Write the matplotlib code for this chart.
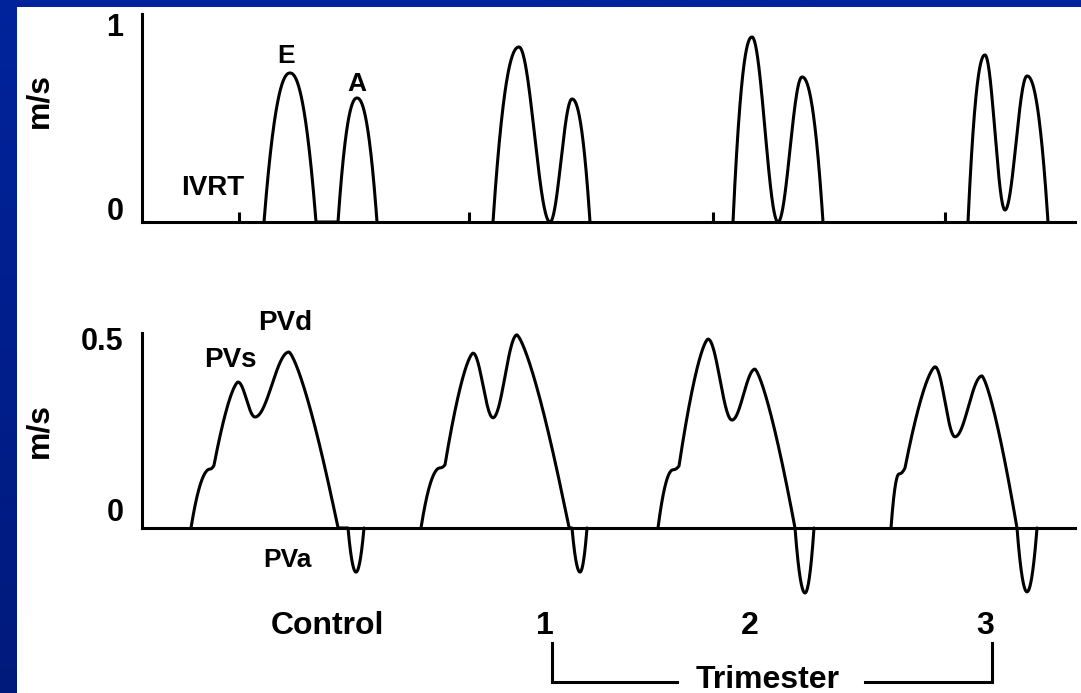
import numpy as np
import matplotlib
matplotlib.use("Agg")
import matplotlib.pyplot as plt
from matplotlib.transforms import ScaledTranslation

plt.rcParams['font.family'] = ['Liberation Sans', 'DejaVu Sans']
plt.rcParams['font.weight'] = 'bold'

W, H, DPI = 1081, 693, 100

# ---------------- data (time in ms from start of trace, velocity in m/s) ----------------
groups = ["Control", "1", "2", "3"]
group_label_t = [185, 403, 608, 843]

# isovolumic relaxation markers on the mitral trace
ivrt_marks = [97, 327, 571, 803]

# mitral inflow knots: onset, E peak, E end, A onset, A peak, A end
mitral_t = [
    [122, 148, 174, 196, 215, 235],
    [351, 377, 408, 408, 430, 448],
    [591, 610, 636, 636, 660, 681],
    [826, 843, 863, 863, 885, 906],
]
mitral_v = [
    [0, 0.745, 0, 0, 0.62, 0],
    [0, 0.875, 0, 0, 0.615, 0],
    [0, 0.925, 0, 0, 0.725, 0],
    [0, 0.835, 0.06, 0.06, 0.73, 0],
]
# knots where the trace turns smoothly (peaks and fused E-A troughs)
mitral_smooth = [
    [False, True, False, False, True, False],
    [False, True, True, True, True, False],
    [False, True, True, True, True, False],
    [False, True, True, True, True, False],
]
mitral_power = [2.2, 2.2, 1, 2.2, 2.2]

# pulmonary venous flow knots:
# onset, shoulder, shoulder end, PVs, S-D notch, PVd, zero crossing, PVa start, PVa, PVa end
pv_t = [
    [49, 68, 72, 96, 113, 147, 196, 206, 214, 222],
    [279, 298, 303, 331, 351, 375, 427, 430, 438, 445],
    [516, 531, 537, 566, 590, 613, 653, 653, 663, 672],
    [749, 757, 763, 793, 813, 840, 875, 875, 885, 895],
]
pv_v = [
    [0, 0.155, 0.165, 0.384, 0.292, 0.463, 0, 0, -0.116, 0],
    [0, 0.158, 0.166, 0.46, 0.29, 0.508, 0, 0, -0.116, 0],
    [0, 0.153, 0.163, 0.497, 0.284, 0.418, 0, 0, -0.171, 0],
    [0, 0.142, 0.158, 0.424, 0.24, 0.40, 0, 0, -0.168, 0],
]
pv_smooth = [False, True, False, True, True, True, False, False, True, False]
pv_power = [2, 2, 1.5, 2, 2, 1.35, 1, 2, 2]


def trace(t, v, smooth, power, n=80):
    """Join velocity knots with rounded segments (flat at smooth knots)."""
    xs, ys = [t[0]], [v[0]]
    for i in range(len(t) - 1):
        t0, t1, v0, v1 = t[i], t[i + 1], v[i], v[i + 1]
        if t1 <= t0:
            continue
        s = np.linspace(0, 1, n)[1:]
        a, b, p = smooth[i], smooth[i + 1], power[i]
        if a and b:
            f = (1 - np.cos(np.pi * s)) / 2
        elif b:
            f = 1 - (1 - s) ** p
        elif a:
            f = s ** p
        else:
            f = s
        xs.extend(t0 + (t1 - t0) * s)
        ys.extend(v0 + (v1 - v0) * f)
    return np.array(xs), np.array(ys)


# ---------------- figure ----------------
fig = plt.figure(figsize=(W / DPI, H / DPI), dpi=DPI)

bg = fig.add_axes([0, 0, 1, 1], zorder=0)
bg.set_xlim(0, W)
bg.set_ylim(H, 0)
bg.axis('off')
grad = np.linspace(0, 1, 256)[:, None]
blue = matplotlib.colors.LinearSegmentedColormap.from_list('frame', ['#00249c', '#001a7c'])
bg.imshow(grad, cmap=blue, extent=(0, W, H, 0), aspect='auto')
bg.add_patch(plt.Rectangle((17, 7), W - 17, H - 7, color='white', lw=0))

LW = 2.2
T_MAX = 933


def px_axes(left, right, top, bottom):
    return [left / W, 1 - bottom / H, (right - left) / W, (bottom - top) / H]


def style_axes(ax):
    for side in ('top', 'right'):
        ax.spines[side].set_visible(False)
    for side in ('left', 'bottom'):
        ax.spines[side].set_linewidth(LW)
        ax.spines[side].set_color('black')
    ax.set_xticks([])
    ax.set_xlim(0, T_MAX)
    ax.patch.set_alpha(0)
    ax.tick_params(axis='y', length=0, pad=13.5, labelsize=22)


def shift_ticklabels(ax, shifts_px):
    for lab, dy in zip(ax.get_yticklabels(), shifts_px):
        lab.set_verticalalignment('baseline')
        lab.set_fontweight('bold')
        lab.set_transform(lab.get_transform() +
                          ScaledTranslation(0, dy / DPI, fig.dpi_scale_trans))


# mitral inflow panel (v = 0 at 222 px, 200 px per m/s)
ax1 = fig.add_axes(px_axes(142, 1075, 14, 222), zorder=2)
style_axes(ax1)
ax1.set_ylim(0, 1.04)
ax1.set_yticks([0, 1], ['0', '1'])
shift_ticklabels(ax1, [2, -14])
ax1.vlines(ivrt_marks, 0, 0.05, color='black', lw=LW)
for t, v, sm in zip(mitral_t, mitral_v, mitral_smooth):
    x, y = trace(t, v, sm, mitral_power)
    ax1.plot(x, y, color='black', lw=LW, solid_joinstyle='round', solid_capstyle='round')
ax1.text(144, 0.795, 'E', ha='center', va='baseline', fontsize=19)
ax1.text(215, 0.655, 'A', ha='center', va='baseline', fontsize=19)
ax1.text(71, 0.135, 'IVRT', ha='center', va='baseline', fontsize=20)

# pulmonary venous panel (v = 0 at 528 px, 380 px per m/s)
ax2 = fig.add_axes(px_axes(142, 1075, 333, 604), zorder=2)
style_axes(ax2)
ax2.set_ylim(-0.2, 0.513)
ax2.spines['left'].set_bounds(0, 0.513)
ax2.spines['bottom'].set_position(('data', 0))
ax2.set_yticks([0, 0.5], ['0', '0.5'])
shift_ticklabels(ax2, [7, -12])
for t, v in zip(pv_t, pv_v):
    x, y = trace(t, v, pv_smooth, pv_power)
    ax2.plot(x, y, color='black', lw=LW, solid_joinstyle='round', solid_capstyle='round')
ax2.text(88, 0.424, 'PVs', ha='center', va='baseline', fontsize=20)
ax2.text(143, 0.521, 'PVd', ha='center', va='baseline', fontsize=20)
ax2.text(145, -0.103, 'PVa', ha='center', va='baseline', fontsize=19)

# group labels and trimester bracket
for name, t in zip(groups, group_label_t):
    ax2.text(t, -0.279, name, ha='center', va='baseline', fontsize=23)
tri_t = (group_label_t[1] + group_label_t[3]) / 2 + 3
ax2.text(tri_t, -0.421, 'Trimester', ha='center', va='baseline', fontsize=23)
b_left, b_right = group_label_t[1] + 7, group_label_t[3] + 7
b_top, b_bot = -0.303, -0.405
ax2.plot([b_left, b_left, tri_t - 91], [b_top, b_bot, b_bot], color='black', lw=LW,
         clip_on=False, solid_joinstyle='miter')
ax2.plot([tri_t + 97, b_right, b_right], [b_bot, b_bot, b_top], color='black', lw=LW,
         clip_on=False, solid_joinstyle='miter')

# velocity axis titles
for py in (100, 430):
    fig.text(39 / W, 1 - py / H, 'm/s', rotation=90, ha='center', va='center', fontsize=23)

fig.savefig('out.png', dpi=DPI)
